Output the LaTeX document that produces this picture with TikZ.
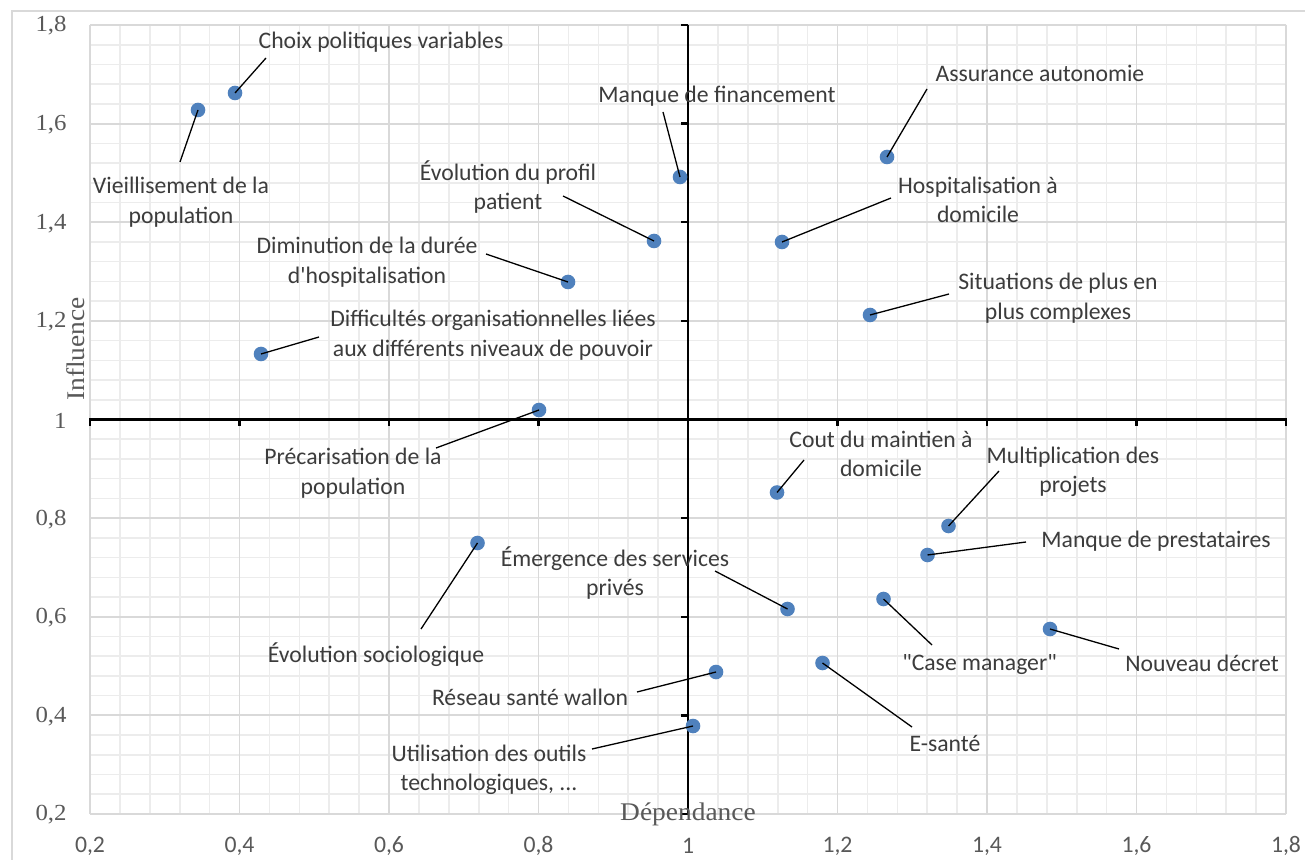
\documentclass[tikz,border=0pt]{standalone}
\usepackage{fontspec}
\setmainfont{Carlito}[Ligatures=TeXOff]
\newfontfamily\axserif[FakeStretch=1.08]{Liberation Serif}
\definecolor{dotblue}{RGB}{79,129,189}
\definecolor{labgray}{RGB}{60,60,60}
\definecolor{tickgray}{RGB}{89,89,89}
\definecolor{majgrid}{RGB}{217,217,217}
\definecolor{mingrid}{RGB}{236,236,236}
\begin{document}
\begin{tikzpicture}[x=0.5pt,y=-0.5pt,
  dot/.style={circle,fill=dotblue,inner sep=0pt,minimum size=7.3pt},
  lab/.style={text=labgray,align=center,inner sep=0pt,font=\fontsize{11.85}{14.8}\selectfont},
  leader/.style={black,line width=0.65pt},
  minorline/.style={mingrid,line width=0.8pt},
  majorline/.style={majgrid,line width=0.9pt},
  xtick/.style={text=tickgray,inner sep=0pt,font=\fontsize{11.85}{14}\selectfont},
  ytick/.style={text=tickgray,inner sep=0pt,anchor=east,font=\axserif\fontsize{11.5}{13}\selectfont},
  axtitle/.style={text=tickgray,inner sep=0pt,font=\axserif\fontsize{12.7}{15}\selectfont}]
\useasboundingbox (0,0) rectangle (1305,860);
\fill[white] (0,0) rectangle (1305,860);
% chart area frame
\draw[majgrid,line width=0.7pt] (12,860) -- (12,11) -- (1305,11);
% grid
\foreach \i in {0,...,40}{
  \draw[minorline] ({90+\i*29.9},25) -- ({90+\i*29.9},814);
  \draw[minorline] (90,{25+\i*19.725}) -- (1286,{25+\i*19.725});
}
\foreach \i in {0,...,8}{
  \draw[majorline] ({90+\i*149.5},25) -- ({90+\i*149.5},814);
  \draw[majorline] (90,{25+\i*98.625}) -- (1286,{25+\i*98.625});
}
% axes
\draw[black,line width=1.5pt] (89,420) -- (1287,420);
\foreach \i in {0,...,8}{
  \draw[black,line width=1.3pt] ({90+\i*149.5},420) -- ({90+\i*149.5},426.5);
}
\draw[black,line width=1.35pt] (688,25) -- (688,814);
\foreach \i in {0,...,8}{
  \draw[black,line width=1.2pt] (688,{25+\i*98.625}) -- (681,{25+\i*98.625});
}
% tick labels
\foreach \v [count=\k from 0] in {1{,}8,1{,}6,1{,}4,1{,}2,1,0{,}8,0{,}6,0{,}4,0{,}2}{
  \node[ytick] (yt\k) at (67,{26+\k*98.625}) {\v};
}
\foreach \v [count=\k from 0] in {0{,}2,0{,}4,0{,}6,0{,}8,1,1{,}2,1{,}4,1{,}6,1{,}8}{
  \node[xtick] (xt\k) at ({90+\k*149.5},846) {\v};
}
% axis titles
\node[axtitle,rotate=90] (ytitle) at (76,349) {Influence};
\node[axtitle] (xtitle) at (688,814) {Dépendance};
% points
\node[dot] (p1) at (198,110) {};
\node[dot] (p2) at (235,93) {};
\node[dot] (p3) at (680,177) {};
\node[dot] (p4) at (654,241) {};
\node[dot] (p5) at (782,242) {};
\node[dot] (p6) at (887,157) {};
\node[dot] (p7) at (568,282) {};
\node[dot] (p8) at (870,315) {};
\node[dot] (p9) at (261,354) {};
\node[dot] (p10) at (539,410) {};
\node[dot] (p11) at (777,492.5) {};
\node[dot] (p12) at (948.5,526) {};
\node[dot] (p13) at (927.5,555) {};
\node[dot] (p14) at (787.5,609) {};
\node[dot] (p15) at (883.5,599) {};
\node[dot] (p16) at (1050,629) {};
\node[dot] (p17) at (822.5,663) {};
\node[dot] (p18) at (477.5,543) {};
\node[dot] (p19) at (716,672) {};
\node[dot] (p20) at (693,726) {};
% labels
\node[lab] (l1) at (181,202) {Vieillisement de la\\population};
\node[lab] (l2) at (381,42) {Choix politiques variables};
\node[lab] (l3) at (717,96) {Manque de financement};
\node[lab] (l4) at (508,187) {Évolution du profil\\patient};
\node[lab] (l5) at (978,200) {Hospitalisation à\\domicile};
\node[lab] (l6) at (1040,73) {Assurance autonomie};
\node[lab] (l7) at (367,262) {Diminution de la durée\\d'hospitalisation};
\node[lab] (l8) at (1058,298) {Situations de plus en\\plus complexes};
\node[lab] (l9) at (493,335) {Difficultés organisationnelles liées\\aux différents niveaux de pouvoir};
\node[lab] (l10) at (353,473) {Précarisation de la\\population};
\node[lab] (l11) at (881,454) {Cout du maintien à\\domicile};
\node[lab] (l12) at (1073,472) {Multiplication des\\projets};
\node[lab] (l13) at (1156,541) {Manque de prestataires};
\node[lab] (l14) at (615,573) {Émergence des services\\privés};
\node[lab] (l15) at (979.5,665) {"Case manager"};
\node[lab] (l16) at (1202,663) {Nouveau décret};
\node[lab] (l17) at (945,743) {E-santé};
\node[lab] (l18) at (376,655) {Évolution sociologique};
\node[lab] (l19) at (530,697) {Réseau santé wallon};
\node[lab] (l20) at (489,770) {Utilisation des outils\\technologiques, ...};
% leader ends
\coordinate (c1) at (180,162);
\coordinate (c2) at (266,58);
\coordinate (c3) at (663,112);
\coordinate (c4) at (563,196);
\coordinate (c5) at (891,198);
\coordinate (c6) at (927,89);
\coordinate (c7) at (486,254);
\coordinate (c8) at (949,294);
\coordinate (c9) at (319,337);
\coordinate (c10) at (436,448);
\coordinate (c11) at (804,460);
\coordinate (c12) at (999,471);
\coordinate (c13) at (1026,542);
\coordinate (c14) at (715,571);
\coordinate (c15) at (932,645);
\coordinate (c16) at (1119,649);
\coordinate (c17) at (912,727);
\coordinate (c18) at (421,629);
\coordinate (c19) at (637,692);
\coordinate (c20) at (592,749);
\foreach \n in {1,...,20}{
  \draw[leader] (c\n) -- (p\n.center);
}
\end{tikzpicture}
\end{document}
